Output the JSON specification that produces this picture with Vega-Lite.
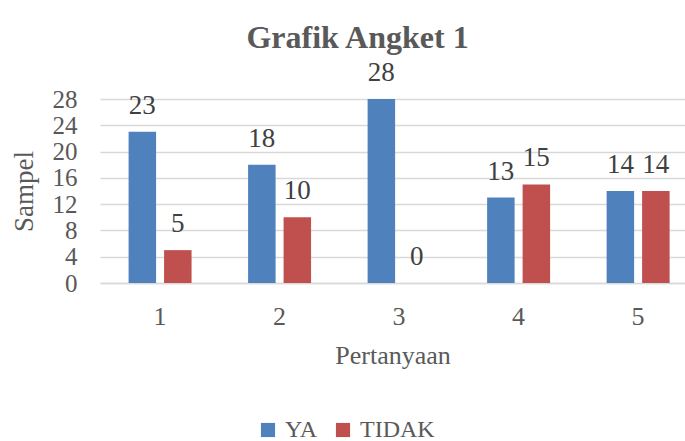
{
  "$schema": "https://vega.github.io/schema/vega-lite/v6.json",
  "autosize": "none",
  "width": 585,
  "height": 184,
  "padding": {"left": 100, "top": 99, "right": 0, "bottom": 158},
  "background": "white",
  "config": {
    "view": {"stroke": null},
    "font": "Liberation Serif",
    "axis": {"labelFont": "Liberation Serif", "titleFont": "Liberation Serif", "labelColor": "#595959", "titleColor": "#595959", "titleFontWeight": "normal"},
    "legend": {"labelFont": "Liberation Serif", "labelColor": "#595959"}
  },
  "title": {
    "text": "Grafik Angket 1",
    "font": "Liberation Serif",
    "fontSize": 32,
    "fontWeight": "bold",
    "color": "#595959",
    "anchor": "middle",
    "dx": -35,
    "offset": 4
  },
  "data": {
    "values": [
      {"q": "1", "s": "YA", "v": 23},
      {"q": "1", "s": "TIDAK", "v": 5},
      {"q": "2", "s": "YA", "v": 18},
      {"q": "2", "s": "TIDAK", "v": 10},
      {"q": "3", "s": "YA", "v": 28},
      {"q": "3", "s": "TIDAK", "v": 0},
      {"q": "4", "s": "YA", "v": 13},
      {"q": "4", "s": "TIDAK", "v": 15},
      {"q": "5", "s": "YA", "v": 14},
      {"q": "5", "s": "TIDAK", "v": 14}
    ]
  },
  "encoding": {
    "x": {
      "field": "q", "type": "nominal", "title": "Pertanyaan",
      "scale": {"paddingInner": 0.473, "paddingOuter": 0.184, "align": 0.65},
      "axis": {"labelAngle": 0, "labelFontSize": 26, "titleFontSize": 26, "labelPadding": 20, "titlePadding": 13, "ticks": false, "domainColor": "#d9d9d9", "domainWidth": 1.5}
    },
    "xOffset": {"field": "s", "type": "nominal", "sort": ["YA", "TIDAK"], "scale": {"paddingInner": 0.225}},
    "y": {
      "field": "v", "type": "quantitative", "title": "Sampel",
      "scale": {"domain": [0, 28], "nice": false},
      "axis": {"values": [0, 4, 8, 12, 16, 20, 24, 28], "labelFontSize": 25, "titleFontSize": 27, "labelPadding": 23, "titlePadding": 14, "ticks": false, "domain": false, "gridColor": "#d9d9d9", "gridWidth": 1.3}
    }
  },
  "layer": [
    {
      "mark": {"type": "bar"},
      "encoding": {
        "color": {
          "field": "s", "type": "nominal", "sort": ["YA", "TIDAK"],
          "scale": {"domain": ["YA", "TIDAK"], "range": ["#4F81BD", "#C0504D"]},
          "legend": {"title": null, "orient": "none", "legendX": 156, "legendY": 319, "padding": 0, "direction": "horizontal", "symbolType": "square", "symbolSize": 200, "labelFont": "Liberation Serif", "labelColor": "#595959", "labelFontSize": 24, "columnPadding": 13, "labelOffset": 5, "symbolStrokeWidth": 0}
        }
      }
    },
    {
      "mark": {"type": "text", "baseline": "alphabetic", "dy": -18, "fontSize": 27, "color": "#404040", "font": "Liberation Serif"},
      "encoding": {"text": {"field": "v", "type": "quantitative"}}
    }
  ]
}
